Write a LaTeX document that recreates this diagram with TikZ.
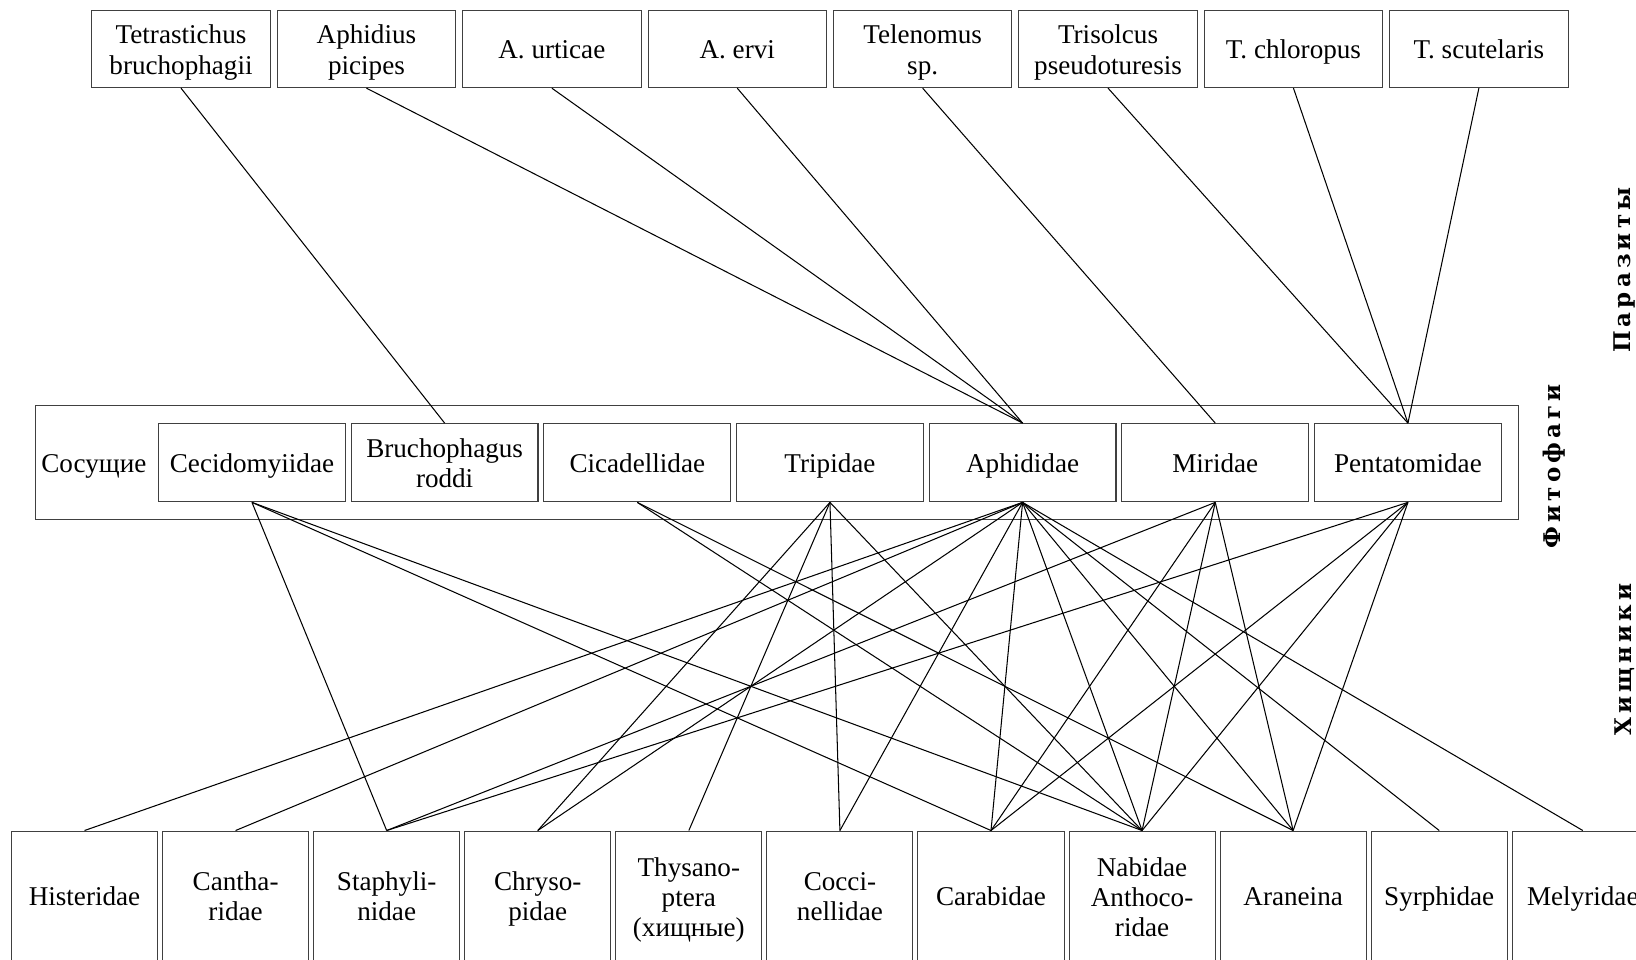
\documentclass[tikz,border=0pt]{standalone}
\usepackage{fontspec}
\setmainfont{Liberation Serif}
\newfontfamily\sidefont[LetterSpace=18]{DejaVu Serif}
\usetikzlibrary{positioning}
\newcommand\topstrut{\rule{0pt}{12pt}}
\newcommand\botstrut{\rule[-3pt]{0pt}{3pt}}
\newcommand\lift[1]{\rule{0pt}{#1pt}}

\begin{document}
\begin{tikzpicture}[x=0.5pt, y=-0.5pt,
  box/.style={draw=black!75, line width=0.5pt, inner sep=1pt, align=center,
    font=\fontsize{13}{14.5}\selectfont,
    execute at begin node=\topstrut, execute at end node=\botstrut},
  parbox/.style={box, minimum width=85.5pt, minimum height=37pt},
  phybox/.style={box, minimum width=89.5pt, minimum height=37.5pt},
  predbox/.style={box, minimum width=70pt, minimum height=62pt},
  link/.style={line width=0.5pt},
  side/.style={rotate=90, font=\fontsize{11}{13}\sidefont\bfseries}]
  \useasboundingbox (0,0) rectangle (1568,920);
  % parasites
  \foreach \name [count=\i from 0] in {\lift{12.5}Tetrastichus\\bruchophagii, \lift{12.5}Aphidius\\picipes, A. urticae, A. ervi, \lift{12.5}Telenomus\\sp., \lift{12.5}Trisolcus\\pseudoturesis, T. chloropus, T. scutelaris} {
    \node[parbox] (p\i) at (173.5+177.7*\i, 47) {\name};
  }
  % phytophages
  \draw[black!75, line width=0.5pt] (34,389) rectangle (1455,498);
  \node[font=\fontsize{13}{14.5}\selectfont] (suck) at (90,443.5) {\topstrut Сосущие\botstrut};
  \foreach \name [count=\i from 0] in {Cecidomyiidae, \lift{12.5}Bruchophagus\\roddi, Cicadellidae, Tripidae, Aphididae, Miridae, Pentatomidae} {
    \node[phybox] (f\i) at (241.5+184.65*\i, 443.5) {\name};
  }
  % predators
  \foreach \name [count=\i from 0] in {Histeridae, \lift{12.5}Cantha-\\ridae, \lift{12.5}Staphyli-\\nidae, \lift{12.5}Chryso-\\pidae, \lift{13.5}Thysano-\\ptera\\(хищные), \lift{12.5}Cocci-\\nellidae, Carabidae, \lift{13.5}Nabidae\\Anthoco-\\ridae, Araneina} {
    \node[predbox] (h\i) at (81+144.8*\i, 858.5) {\name};
  }
  \node[predbox, minimum width=65pt] (h9) at (1379.4,858.5) {Syrphidae};
  \node[predbox, minimum width=67pt] (h10) at (1517,858.5) {Melyridae};
  % side labels
  \node[side] (lpar) at (1557,259) {Паразиты};
  \node[side] (lphy) at (1490,447) {Фитофаги};
  \node[side] (lpred) at (1557,632) {Хищники};
  % links
  \foreach \a/\b in {p0/f1, p1/f4, p2/f4, p3/f4, p4/f5, p5/f6, p6/f6, p7/f6} {
    \draw[link] (\a.south) -- (\b.north);
  }
  \foreach \a/\b in {f0/h2, f0/h6, f0/h7, f2/h7, f2/h8, f3/h3, f3/h4, f3/h5, f3/h7,
      f4/h0, f4/h1, f4/h3, f4/h5, f4/h6, f4/h7, f4/h8, f4/h9, f4/h10,
      f5/h2, f5/h6, f5/h7, f5/h8, f6/h2, f6/h6, f6/h7, f6/h8} {
    \draw[link] (\a.south) -- (\b.north);
  }
\end{tikzpicture}
\end{document}
